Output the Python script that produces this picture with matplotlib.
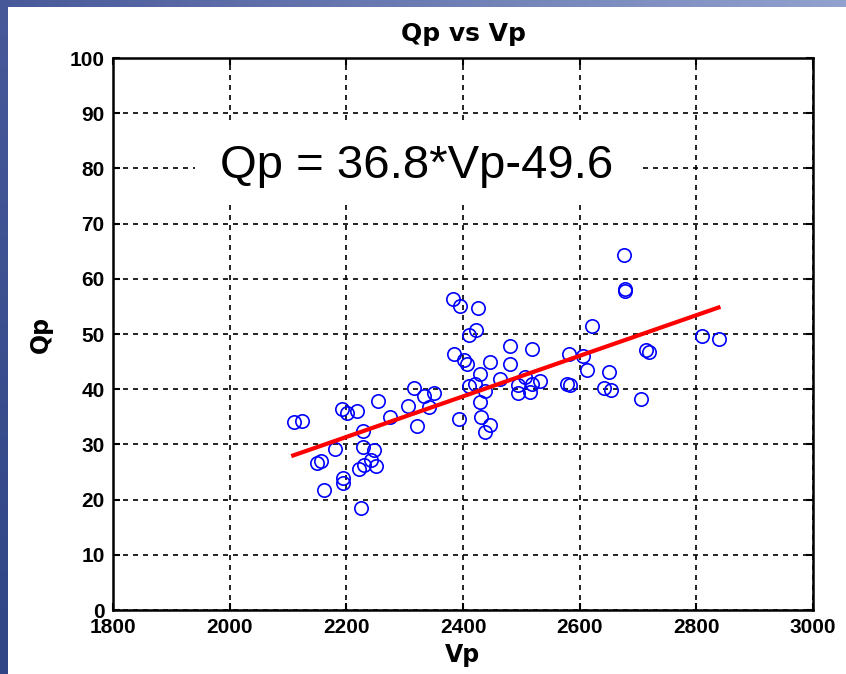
import numpy as np
import matplotlib
matplotlib.use('Agg')
import matplotlib.pyplot as plt
from matplotlib.patches import Rectangle

# measured Vp / Qp pairs
vp = [2110, 2124, 2193, 2201, 2219, 2255, 2274, 2305, 2321, 2228,
      2181, 2228, 2247, 2149, 2157, 2221, 2231, 2243, 2251, 2195,
      2195, 2162, 2225, 2382, 2395, 2425, 2411, 2423, 2384, 2402,
      2406, 2447, 2481, 2519, 2481, 2429, 2463, 2411, 2421, 2437,
      2429, 2393, 2431, 2447, 2437, 2316, 2333, 2351, 2341, 2495,
      2506, 2518, 2532, 2495, 2515, 2578, 2583, 2582, 2606, 2613,
      2651, 2641, 2654, 2705, 2714, 2718, 2621, 2676, 2678, 2678,
      2810, 2838]
qp = [34.0, 34.3, 36.4, 35.7, 36.0, 37.8, 34.9, 37.0, 33.4, 32.4,
      29.1, 29.6, 29.0, 26.7, 27.0, 25.5, 26.2, 27.2, 26.1, 23.9,
      23.0, 21.7, 18.4, 56.3, 55.0, 54.7, 49.9, 50.8, 46.4, 45.3,
      44.6, 44.9, 47.9, 47.3, 44.6, 42.7, 41.8, 40.5, 40.9, 39.7,
      37.6, 34.6, 34.9, 33.5, 32.3, 40.2, 38.8, 39.3, 36.8, 40.8,
      42.3, 40.9, 41.4, 39.3, 39.5, 41.0, 40.8, 46.4, 46.0, 43.5,
      43.2, 40.2, 39.9, 38.2, 47.1, 46.8, 51.4, 64.3, 58.1, 57.8,
      49.6, 49.1]

# fitted line end points
fit_vp = [2109, 2838]
fit_qp = [28.0, 54.8]

xticks = [1800, 2000, 2200, 2400, 2600, 2800, 3000]
yticks = [0, 10, 20, 30, 40, 50, 60, 70, 80, 90, 100]
equation = 'Qp = 36.8*Vp-49.6'

W, H = 846, 674
fig = plt.figure(figsize=(W / 100, H / 100), dpi=100)
fig.patch.set_facecolor('white')

# slide border strips
top = fig.add_axes([0, 1 - 7 / H, 1, 7 / H])
top.imshow(np.linspace(0, 1, 256)[None, :], aspect='auto',
           cmap=matplotlib.colors.LinearSegmentedColormap.from_list('t', ['#48599a', '#92a1cd']))
top.axis('off')
left = fig.add_axes([0, 0, 7 / W, 1])
left.imshow(np.linspace(0, 1, 256)[:, None], aspect='auto',
            cmap=matplotlib.colors.LinearSegmentedColormap.from_list('l', ['#48599a', '#2f4585']))
left.axis('off')

ax = fig.add_axes([113 / W, 64 / H, 700 / W, 552 / H])
ax.set_xlim(1800, 3000)
ax.set_ylim(0, 100)
ax.set_xticks(xticks)
ax.set_yticks(yticks)

tick_font = dict(family='Liberation Sans', weight='bold', size=15)
ax.set_xticklabels([str(t) for t in xticks], fontdict=tick_font)
ax.set_yticklabels([str(t) for t in yticks], fontdict=tick_font)
ax.tick_params(direction='in', length=5, width=1.5, top=True, right=True, pad=6)

ax.grid(True, color='black', linestyle=(0, (3, 3)), linewidth=1.2)
for s in ax.spines.values():
    s.set_linewidth(1.8)

ax.plot(vp, qp, 'o', markersize=9.6, markerfacecolor='none',
        markeredgecolor='#0000ff', markeredgewidth=1.2, zorder=4)
ax.plot(fit_vp, fit_qp, color='#ff0000', linewidth=3, zorder=5)

ax.add_patch(Rectangle((0.117, 0.743), 0.639, 0.141, transform=ax.transAxes,
                       facecolor='white', edgecolor='none', zorder=3))
ax.text(0.434, 0.783, equation, transform=ax.transAxes, ha='center', va='baseline',
        fontsize=34, family='Liberation Sans', zorder=6)

ax.set_title('Qp vs Vp', fontsize=18, fontweight='bold', family='DejaVu Sans', pad=12)
ax.set_xlabel('Vp', fontsize=17, fontweight='bold', family='DejaVu Sans', labelpad=4)
ax.set_ylabel('Qp', fontsize=17, fontweight='bold', family='DejaVu Sans', labelpad=12)

fig.savefig('out.png', dpi=100)
